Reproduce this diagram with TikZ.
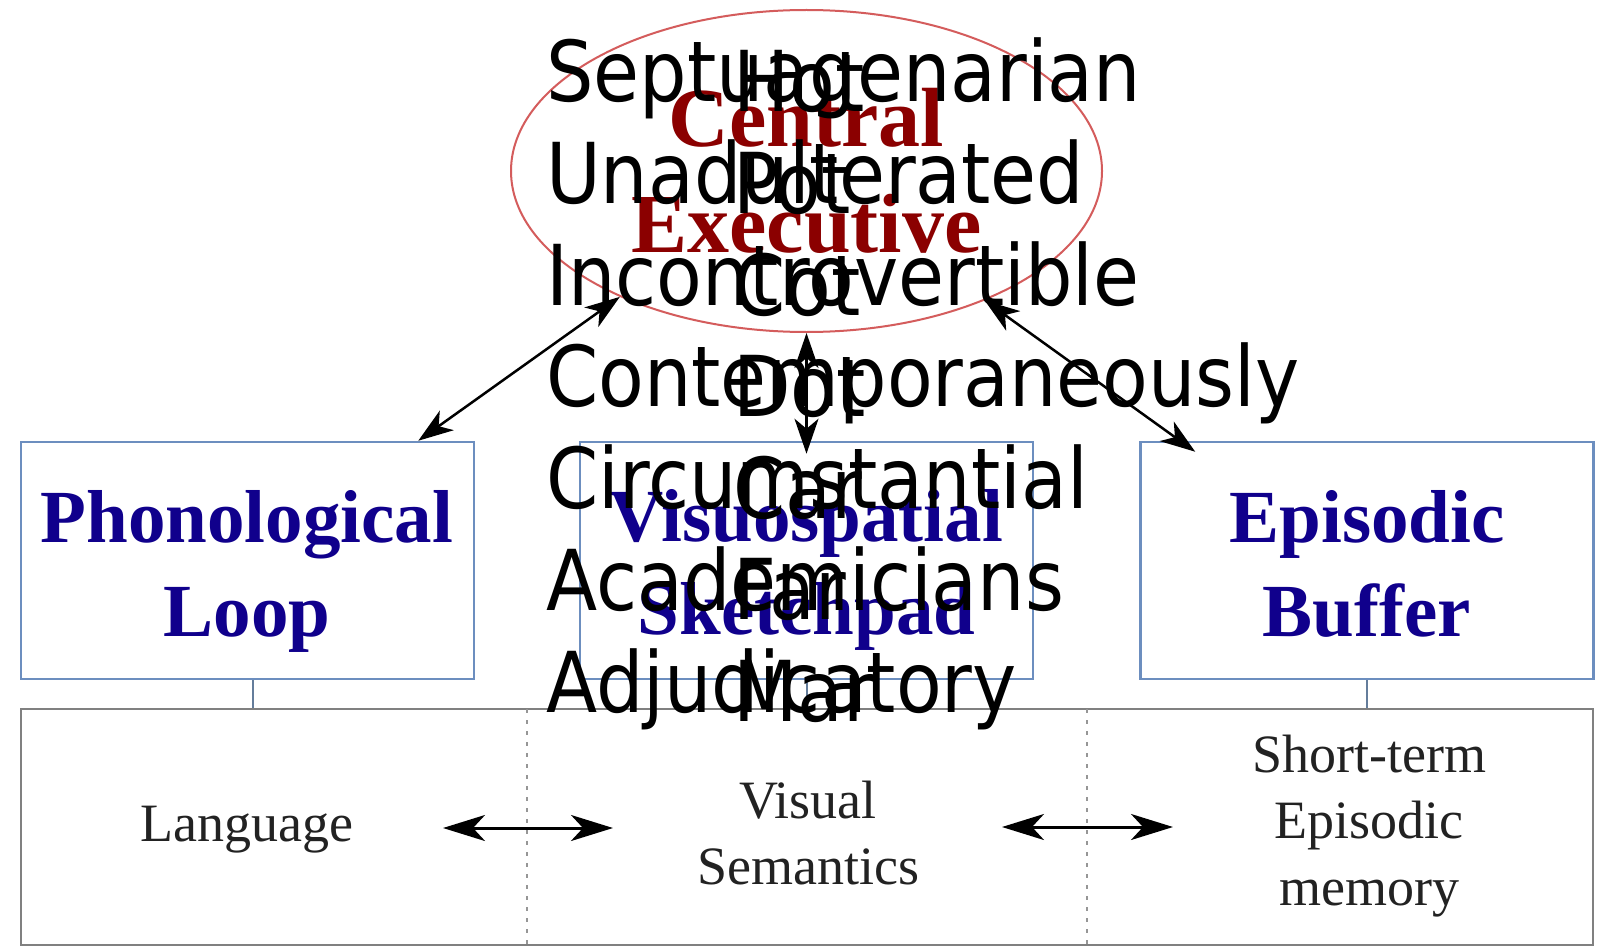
\documentclass[tikz,border=0pt]{standalone}
\usepackage{fontspec}
\setmainfont{Liberation Serif}
\newfontfamily\ovfont[FakeStretch=0.89]{DejaVu Sans}
\usetikzlibrary{arrows.meta,calc,shapes.geometric}
\definecolor{cered}{RGB}{139,0,0}
\definecolor{ellred}{RGB}{212,92,92}
\definecolor{navy}{RGB}{16,0,140}
\definecolor{boxblue}{RGB}{108,142,191}
\definecolor{boxgray}{RGB}{128,128,128}
\definecolor{dotgray}{RGB}{150,150,150}
\definecolor{txtgray}{RGB}{34,34,34}
\definecolor{conncol}{RGB}{100,125,155}
\begin{document}
\begin{tikzpicture}[x=1pt,y=-1pt,
  ellsty/.style={draw=ellred, line width=2pt, ellipse, minimum width=591pt, minimum height=322pt, inner sep=0pt,
    text=cered, font=\bfseries\fontsize{84}{106}\selectfont, align=center},
  boxsty/.style={draw=boxblue, line width=2.5pt, rectangle, minimum width=453pt, minimum height=237pt, inner sep=0pt},
  bottsty/.style={draw=boxgray, line width=2.5pt, rectangle, minimum width=1572pt, minimum height=236pt, inner sep=0pt},
  ttl/.style={anchor=base, inner sep=0pt, text=navy, font=\bfseries\fontsize{75}{94}\selectfont},
  lbl/.style={anchor=base, inner sep=0pt, text=txtgray, font=\fontsize{54}{66}\selectfont},
  ov/.style={anchor=base west, inner sep=0pt, text=black, font=\ovfont\fontsize{84}{100}\selectfont},
  connsty/.style={draw=conncol, line width=2pt},
  dotsty/.style={draw=dotgray, line width=2pt, dash pattern=on 4pt off 7pt},
  dbl/.style={arrows={Stealth[length=35pt,width=24pt,inset=10pt]-Stealth[length=35pt,width=24pt,inset=10pt]}, line width=2.5pt, draw=black},
  bdbl/.style={arrows={Stealth[length=42pt,width=26pt,inset=12pt]-Stealth[length=42pt,width=26pt,inset=12pt]}, line width=3pt, draw=black}
]
\useasboundingbox (0,0) rectangle (1603,947);
\fill[white] (0,0) rectangle (1603,947);

% main nodes
\node[ellsty] (ce) at (806.5,171) {Central\\Executive};
\node[boxsty] (pl) at (247.5,560.5) {};
\node[boxsty] (vs) at (806.5,560.5) {};
\node[boxsty] (eb) at (1367,560.5) {};
\node[bottsty] (bb) at (807,827) {};

% box titles
\node[ttl] (pl1) at (247,542) {Phonological};
\node[ttl] (pl2) at (247,636) {Loop};
\node[ttl] (vs1) at (806.5,541) {Visuospatial};
\node[ttl] (vs2) at (806.5,634) {Sketchpad};
\node[ttl] (eb1) at (1367,542) {Episodic};
\node[ttl] (eb2) at (1367,636) {Buffer};

% connectors to the bottom box
\draw[connsty] ([xshift=5pt]pl.south) -- ([xshift=5pt]pl.south |- bb.north);
\draw[connsty] (vs.south) -- (vs.south |- bb.north);
\draw[connsty] (eb.south) -- (eb.south |- bb.north);

% dotted separators
\coordinate (d1) at (527,709);
\coordinate (d2) at (1087,709);
\draw[dotsty] (d1) -- (d1 |- bb.south);
\draw[dotsty] (d2) -- (d2 |- bb.south);

% bottom labels
\node[lbl] (lang) at (247,841) {Language};
\node[lbl] (vis1) at (808,818) {Visual};
\node[lbl] (vis2) at (808,884) {Semantics};
\node[lbl] (st1) at (1369,772) {Short-term};
\node[lbl] (st2) at (1369,838) {Episodic};
\node[lbl] (st3) at (1369,905) {memory};

% arrows
\draw[dbl] (ce.214.8) -- ([xshift=-57pt]pl.north east);
\draw[dbl] (ce.south) -- ([yshift=-13pt]vs.north);
\draw[dbl] (ce.324.5) -- ([xshift=56pt,yshift=-11pt]eb.north west);

\coordinate (l1) at (443,828);
\coordinate (l2) at (613,828);
\coordinate (r1) at (1002,827);
\coordinate (r2) at (1173,827);
\draw[bdbl] (l1) -- (l2);
\draw[bdbl] (r1) -- (r2);

% overlay words
\foreach \w [count=\i from 0] in {Septuagenarian,Unadulterated,Incontrovertible,Contemporaneously,Circumstantial,Academicians,Adjudicatory}
  \node[ov] (ova\i) at (546,{101.5+101.8*\i}) {\w};
\foreach \w [count=\i from 0] in {Hot,Pot,Cot,Dot,Car,Far,Mar}
  \node[ov] (ovb\i) at (733,{112+101.5*\i}) {\w};
\end{tikzpicture}
\end{document}
